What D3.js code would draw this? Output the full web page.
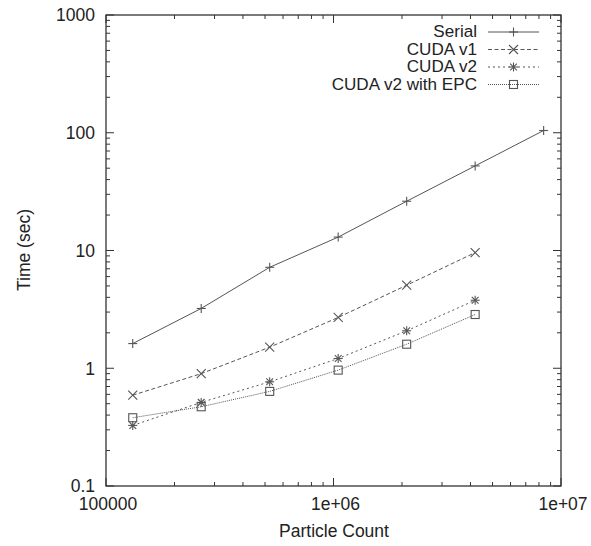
<!DOCTYPE html>
<html>
<head>
<meta charset="utf-8">
<script src="https://cdn.jsdelivr.net/npm/d3@7"></script>
<style>
  html, body { margin: 0; padding: 0; background: #fff; }
  svg { display: block; }
  text { font-family: "Liberation Sans", Arial, sans-serif; fill: #222; }
</style>
</head>
<body>
<svg id="chart" width="591" height="546"></svg>
<script>
// Particle counts (powers of two from 2^17 to 2^23)
const particleCounts = [131072, 262144, 524288, 1048576, 2097152, 4194304, 8388608];

// Run times in seconds for each implementation
const serialTimes = [1.62, 3.22, 7.2, 13.0, 26.2, 52.3, 104.5];
const cudaV1Times = [0.59, 0.90, 1.51, 2.70, 5.07, 9.6];
const cudaV2Times = [0.327, 0.513, 0.767, 1.21, 2.08, 3.78];
const cudaV2EpcTimes = [0.38, 0.471, 0.636, 0.964, 1.60, 2.86];

const seriesNames = ["Serial", "CUDA v1", "CUDA v2", "CUDA v2 with EPC"];

const xTickValues = [1e5, 1e6, 1e7];
const xTickLabels = ["100000", "1e+06", "1e+07"];
const yTickValues = [0.1, 1, 10, 100, 1000];
const yTickLabels = ["0.1", "1", "10", "100", "1000"];

const xTitle = "Particle Count";
const yTitle = "Time (sec)";

const series = [
  { name: seriesNames[0], values: serialTimes, dash: null, marker: "plus" },
  { name: seriesNames[1], values: cudaV1Times, dash: "4,2.5", marker: "cross" },
  { name: seriesNames[2], values: cudaV2Times, dash: "2,3", marker: "star" },
  { name: seriesNames[3], values: cudaV2EpcTimes, dash: "1,1", marker: "square" }
];

const svg = d3.select("#chart");
const plot = { left: 106, right: 561, top: 15, bottom: 486 };
const ink = "#555";

const x = d3.scaleLog().domain([1e5, 1e7]).range([plot.left, plot.right]);
const y = d3.scaleLog().domain([0.1, 1000]).range([plot.bottom, plot.top]);

// Minor ticks 2..9 within each decade
function minorTicks(lo, hi) {
  const out = [];
  for (let d = lo; d < hi; d *= 10) {
    for (let k = 2; k <= 9; k++) out.push(d * k);
  }
  return out;
}
const xMinor = minorTicks(1e5, 1e7);
const yMinor = minorTicks(0.1, 1000);

const frame = svg.append("g");
const majorLen = 8, minorLen = 4;

// Ticks on all four sides, pointing into the plot
function tickLines(vals, len, side) {
  vals.forEach(v => {
    let x1, y1, x2, y2;
    if (side === "bottom") { x1 = x2 = x(v); y1 = plot.bottom; y2 = plot.bottom - len; }
    if (side === "top") { x1 = x2 = x(v); y1 = plot.top; y2 = plot.top + len; }
    if (side === "left") { y1 = y2 = y(v); x1 = plot.left; x2 = plot.left + len; }
    if (side === "right") { y1 = y2 = y(v); x1 = plot.right; x2 = plot.right - len; }
    frame.append("line")
      .attr("x1", x1).attr("y1", y1).attr("x2", x2).attr("y2", y2)
      .attr("stroke", "#333").attr("stroke-width", 1);
  });
}
["bottom", "top"].forEach(s => { tickLines(xTickValues, majorLen, s); tickLines(xMinor, minorLen, s); });
["left", "right"].forEach(s => { tickLines(yTickValues, majorLen, s); tickLines(yMinor, minorLen, s); });

frame.append("rect")
  .attr("x", plot.left).attr("y", plot.top)
  .attr("width", plot.right - plot.left).attr("height", plot.bottom - plot.top)
  .attr("fill", "none").attr("stroke", "#333").attr("stroke-width", 1.3);

// Tick labels
const fontSize = 17.5;
xTickValues.forEach((v, i) => {
  svg.append("text")
    .attr("x", x(v) + 2).attr("y", plot.bottom + 24)
    .attr("text-anchor", "middle").attr("font-size", fontSize)
    .text(xTickLabels[i]);
});
yTickValues.forEach((v, i) => {
  svg.append("text")
    .attr("x", plot.left - 11).attr("y", y(v) + 6.3)
    .attr("text-anchor", "end").attr("font-size", fontSize)
    .text(yTickLabels[i]);
});

// Axis titles
svg.append("text")
  .attr("x", 334).attr("y", 537)
  .attr("text-anchor", "middle").attr("font-size", fontSize)
  .text(xTitle);
svg.append("text")
  .attr("transform", `translate(30,250) rotate(-90)`)
  .attr("text-anchor", "middle").attr("font-size", fontSize)
  .text(yTitle);

// Point markers
function drawMarker(g, type, cx, cy) {
  const r = 4.5;
  const st = { stroke: ink, "stroke-width": 1.1, fill: "none" };
  const seg = (x1, y1, x2, y2) => {
    const l = g.append("line").attr("x1", x1).attr("y1", y1).attr("x2", x2).attr("y2", y2);
    Object.entries(st).forEach(([k, v]) => l.attr(k, v));
  };
  if (type === "plus" || type === "star") {
    seg(cx - r, cy, cx + r, cy);
    seg(cx, cy - r, cx, cy + r);
  }
  if (type === "cross" || type === "star") {
    const d = type === "star" ? r * 0.75 : r;
    seg(cx - d, cy - d, cx + d, cy + d);
    seg(cx - d, cy + d, cx + d, cy - d);
  }
  if (type === "square") {
    const h = 4;
    const rc = g.append("rect").attr("x", cx - h).attr("y", cy - h).attr("width", 2 * h).attr("height", 2 * h);
    Object.entries(st).forEach(([k, v]) => rc.attr(k, v));
  }
}

const line = d3.line().x(d => x(d[0])).y(d => y(d[1]));
const plotArea = svg.append("g");

series.forEach(s => {
  const pts = s.values.map((v, i) => [particleCounts[i], v]);
  const path = plotArea.append("path")
    .attr("d", line(pts))
    .attr("fill", "none").attr("stroke", ink).attr("stroke-width", 1);
  if (s.dash) path.attr("stroke-dasharray", s.dash);
  pts.forEach(p => drawMarker(plotArea, s.marker, x(p[0]), y(p[1])));
});

// Legend: rows are tightly packed, so the text is set a little smaller
// and widened horizontally to keep its run length
const legend = svg.append("g");
const legendTextX = 477, sampleX0 = 488, sampleX1 = 539;
const legendFont = 15;
series.forEach((s, i) => {
  const ly = 32 + i * 17.5;
  legend.append("text")
    .attr("transform", `translate(${legendTextX},${ly + 5.2}) scale(1.14,1.04)`)
    .attr("text-anchor", "end").attr("font-size", legendFont)
    .text(s.name);
  const l = legend.append("line")
    .attr("x1", sampleX0).attr("x2", sampleX1).attr("y1", ly).attr("y2", ly)
    .attr("stroke", ink).attr("stroke-width", 1);
  if (s.dash) l.attr("stroke-dasharray", s.dash);
  drawMarker(legend, s.marker, (sampleX0 + sampleX1) / 2, ly);
});
</script>
</body>
</html>
